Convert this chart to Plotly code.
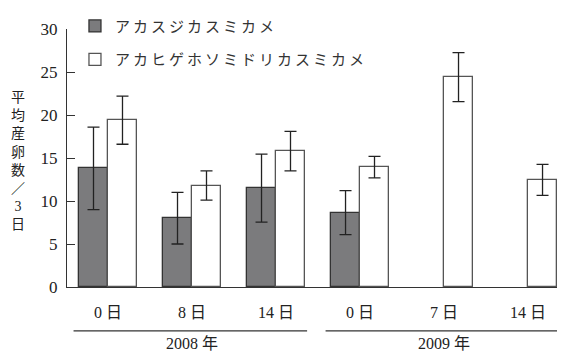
import plotly.graph_objects as go

# ---- data ----
categories = ["0 日", "8 日", "14 日", "0 日", "7 日", "14 日"]
years = ["2008 年", "2009 年"]
series_names = ["アカスジカスミカメ", "アカヒゲホソミドリカスミカメ"]
dark_values = [13.8, 8.0, 11.5, 8.65, None, None]
dark_errors = [4.8, 3.0, 3.95, 2.55, None, None]
white_values = [19.4, 11.8, 15.8, 13.95, 24.4, 12.45]
white_errors = [2.8, 1.7, 2.3, 1.25, 2.85, 1.8]
y_ticks = [0, 5, 10, 15, 20, 25, 30]

xpos = list(range(len(categories)))
SERIF = "'Liberation Serif', 'Noto Sans CJK JP', serif"
BW = 0.345
INK = "#222222"
LINE = "#333333"


def spaced(t, px=3):
    return '<span style="letter-spacing:%dpx">%s</span>' % (px, t)


fig = go.Figure()
fig.add_trace(go.Bar(
    x=xpos, y=dark_values, name=spaced(series_names[0]),
    width=BW, offset=-BW,
    marker=dict(color="#7b7b7d", line=dict(color=LINE, width=1.3)),
    error_y=dict(type="data", array=dark_errors, visible=True,
                 color=INK, thickness=1.3, width=6),
    legendgroup="a",
))
fig.add_trace(go.Bar(
    x=xpos, y=white_values, name=spaced(series_names[1]),
    width=BW, offset=0,
    marker=dict(color="#ffffff", line=dict(color="#555555", width=1.3)),
    error_y=dict(type="data", array=white_errors, visible=True,
                 color=INK, thickness=1.3, width=6),
    legendgroup="b",
))

shapes = [
    dict(type="line", xref="x", yref="y", x0=2.5, x1=2.5, y0=0, y1=-9,
         ysizemode="pixel", yanchor=0, line=dict(color=LINE, width=1.3)),
    dict(type="line", xref="paper", yref="y", x0=0, x1=0, y0=0, y1=-10,
         ysizemode="pixel", yanchor=0, line=dict(color=LINE, width=1.3)),
    dict(type="line", xref="x", yref="paper", x0=-0.41, x1=2.37, y0=-0.17, y1=-0.17,
         line=dict(color=LINE, width=1.3)),
    dict(type="line", xref="x", yref="paper", x0=2.59, x1=5.37, y0=-0.17, y1=-0.17,
         line=dict(color=LINE, width=1.3)),
]

annotations = [
    dict(text=years[0], x=1, xref="x", y=-0.218, yref="paper", yanchor="middle",
         showarrow=False, font=dict(family=SERIF, size=16, color=INK)),
    dict(text=years[1], x=4, xref="x", y=-0.218, yref="paper", yanchor="middle",
         showarrow=False, font=dict(family=SERIF, size=16, color=INK)),
    dict(text="平<br>均<br>産<br>卵<br>数<br>／<br>3<br>日", x=-0.116, xref="paper",
         y=0.49, yref="paper", showarrow=False, align="center",
         font=dict(family=SERIF, size=14, color=INK)),
]

# page body has an 8px margin, so the figure is 8px smaller and margins shifted
fig.update_layout(
    width=557, height=347,
    margin=dict(l=59, r=0, t=21, b=68, autoexpand=False),
    plot_bgcolor="white", paper_bgcolor="white",
    font=dict(family=SERIF, color=INK),
    bargap=0,
    showlegend=True,
    legend=dict(x=0.016, y=1.075, xanchor="left", yanchor="top",
                bgcolor="rgba(0,0,0,0)",
                font=dict(family=SERIF, size=15, color="#333333"),
                traceorder="grouped", tracegroupgap=11, itemwidth=30),
    xaxis=dict(range=[-0.488, 5.44], tickvals=xpos, ticktext=categories,
               showline=True, linecolor=LINE, linewidth=1.3, ticks="",
               ticklabelstandoff=11, tickfont=dict(family=SERIF, size=16, color=INK),
               showgrid=False, zeroline=False, automargin=False),
    yaxis=dict(range=[0, 30], tickvals=y_ticks, showline=True, linecolor=LINE,
               linewidth=1.3, ticks="inside", ticklen=8, tickcolor=LINE,
               tickwidth=1.3, tickfont=dict(family=SERIF, size=17, color=INK),
               ticklabelstandoff=5, showgrid=False, zeroline=False, automargin=False),
    shapes=shapes,
    annotations=annotations,
)

fig.write_html("out.html")
